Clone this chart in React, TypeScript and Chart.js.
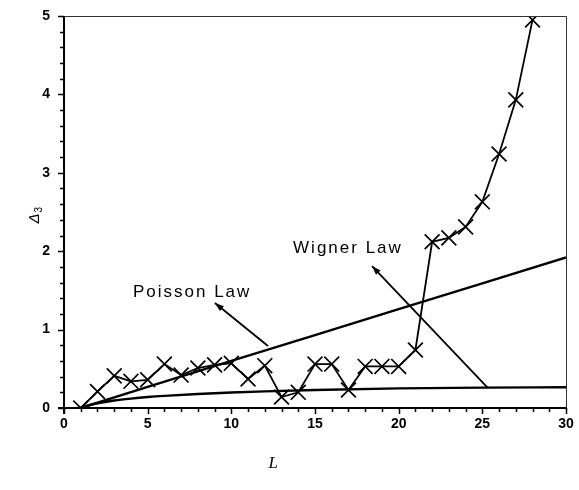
import React, { useEffect, useRef } from 'react';
import { Chart, registerables } from 'chart.js';

Chart.register(...registerables);

// ---- data ----
const L = [1, 2, 3, 4, 5, 6, 7, 8, 9, 10, 11, 12, 13, 14, 15, 16, 17, 18, 19, 20, 21, 22, 23, 24, 25, 26, 27, 28];
const delta3 = [0, 0.21, 0.41, 0.34, 0.36, 0.56, 0.42, 0.51, 0.55, 0.57, 0.37, 0.54, 0.14, 0.2, 0.56, 0.56, 0.23, 0.53, 0.53, 0.53, 0.74, 2.12, 2.17, 2.31, 2.63, 3.24, 3.93, 4.95];

const poissonL = [1, 5, 10, 15, 20, 25, 30];
const poissonY = [0, 0.27, 0.6, 0.93, 1.26, 1.59, 1.92];

const wignerL = [1, 1.5, 2, 3, 4, 5, 6, 8, 10, 12, 15, 20, 25, 30];
const wignerY = [0, 0.035, 0.06, 0.095, 0.12, 0.14, 0.155, 0.178, 0.197, 0.212, 0.23, 0.25, 0.26, 0.265];

const xTicks = [0, 5, 10, 15, 20, 25, 30];
const yTicks = [0, 1, 2, 3, 4, 5];

const xLabel = 'L';
const yLabelMain = 'Δ';
const yLabelSub = '3';

// annotation labels and arrows (in data units)
const labelTexts = ['Poisson Law', 'Wigner Law'];
const labelAt = [
  { x: 4.12, y: 1.415 },
  { x: 13.69, y: 1.975 },
];
const arrowFrom = [
  { x: 12.19, y: 0.79 },
  { x: 25.34, y: 0.255 },
];
const arrowTo = [
  { x: 9.02, y: 1.34 },
  { x: 18.41, y: 1.81 },
];

const TICK_FONT = { family: "'Liberation Sans', Arial, sans-serif", size: 14, weight: 'bold' as const };

const decorPlugin = {
  id: 'decor',
  afterDraw(chart: any) {
    const ctx = chart.ctx as CanvasRenderingContext2D;
    const xs = chart.scales.x;
    const ys = chart.scales.y;
    const area = chart.chartArea;
    ctx.save();
    ctx.strokeStyle = '#000';
    ctx.fillStyle = '#000';

    // top & right frame (thin)
    ctx.lineWidth = 1;
    ctx.strokeStyle = '#333';
    ctx.beginPath();
    ctx.moveTo(area.left, area.top + 0.5);
    ctx.lineTo(area.right + 0.5, area.top + 0.5);
    ctx.lineTo(area.right + 0.5, area.bottom);
    ctx.stroke();

    // main axes
    ctx.strokeStyle = '#000';
    ctx.lineWidth = 2;
    ctx.beginPath();
    ctx.moveTo(area.left - 6, area.bottom);
    ctx.lineTo(area.right + 1, area.bottom);
    ctx.moveTo(area.left, area.top);
    ctx.lineTo(area.left, area.bottom + 6);
    ctx.stroke();

    // x tick marks (every 1, major every 5)
    ctx.lineWidth = 1.5;
    ctx.beginPath();
    for (let v = 0; v <= 30; v++) {
      const px = Math.round(xs.getPixelForValue(v)) + 0.5;
      const len = v % 5 === 0 ? 6 : 4;
      ctx.moveTo(px, area.bottom);
      ctx.lineTo(px, area.bottom + len);
    }
    // y tick marks (every 0.2, major every 1)
    for (let i = 0; i <= 25; i++) {
      const v = i * 0.2;
      const py = Math.round(ys.getPixelForValue(v)) + 0.5;
      const len = i % 5 === 0 ? 6 : 4;
      ctx.moveTo(area.left, py);
      ctx.lineTo(area.left - len, py);
    }
    ctx.stroke();

    // annotation arrows
    ctx.lineWidth = 1.8;
    for (let i = 0; i < arrowFrom.length; i++) {
      const x0 = xs.getPixelForValue(arrowFrom[i].x);
      const y0 = ys.getPixelForValue(arrowFrom[i].y);
      const x1 = xs.getPixelForValue(arrowTo[i].x);
      const y1 = ys.getPixelForValue(arrowTo[i].y);
      ctx.beginPath();
      ctx.moveTo(x0, y0);
      ctx.lineTo(x1, y1);
      ctx.stroke();
      const ang = Math.atan2(y1 - y0, x1 - x0);
      const hl = 9;
      const hw = 3.2;
      ctx.beginPath();
      ctx.moveTo(x1, y1);
      ctx.lineTo(x1 - hl * Math.cos(ang) + hw * Math.sin(ang), y1 - hl * Math.sin(ang) - hw * Math.cos(ang));
      ctx.lineTo(x1 - hl * Math.cos(ang) - hw * Math.sin(ang), y1 - hl * Math.sin(ang) + hw * Math.cos(ang));
      ctx.closePath();
      ctx.fill();
    }

    // annotation labels
    ctx.font = "17px 'Liberation Sans', Arial, sans-serif";
    (ctx as any).letterSpacing = '2px';
    ctx.textBaseline = 'alphabetic';
    ctx.textAlign = 'left';
    for (let i = 0; i < labelTexts.length; i++) {
      ctx.fillText(labelTexts[i], xs.getPixelForValue(labelAt[i].x), ys.getPixelForValue(labelAt[i].y));
    }
    (ctx as any).letterSpacing = '0px';

    // x axis title
    ctx.font = "italic 17px 'Liberation Serif', 'Times New Roman', serif";
    ctx.textAlign = 'center';
    ctx.textBaseline = 'middle';
    ctx.fillText(xLabel, xs.getPixelForValue(12.5), area.bottom + 56);

    // y axis title (rotated)
    ctx.translate(34, (area.top + area.bottom) / 2 + 3);
    ctx.rotate(-Math.PI / 2);
    ctx.textAlign = 'left';
    ctx.textBaseline = 'alphabetic';
    ctx.font = "italic 15px 'Liberation Sans', Arial, sans-serif";
    const w = ctx.measureText(yLabelMain).width;
    const sw = 7;
    const start = -(w + sw) / 2;
    ctx.fillText(yLabelMain, start, 5);
    ctx.font = "10px 'Liberation Sans', Arial, sans-serif";
    ctx.fillText(yLabelSub, start + w + 1, 8);

    ctx.restore();
  },
};

export default function App() {
  const ref = useRef<HTMLCanvasElement | null>(null);

  useEffect(() => {
    if (!ref.current) return;
    const chart = new Chart(ref.current, {
      type: 'scatter',
      data: {
        datasets: [
          {
            data: wignerL.map((x, i) => ({ x, y: wignerY[i] })),
            showLine: true,
            borderColor: '#000',
            borderWidth: 2.4,
            pointRadius: 0,
            cubicInterpolationMode: 'monotone',
          },
          {
            data: poissonL.map((x, i) => ({ x, y: poissonY[i] })),
            showLine: true,
            borderColor: '#000',
            borderWidth: 2.4,
            pointRadius: 0,
          },
          {
            data: L.map((x, i) => ({ x, y: delta3[i] })),
            showLine: true,
            borderColor: '#000',
            borderWidth: 1.8,
            pointStyle: 'crossRot',
            pointRadius: 10.5,
            pointBorderWidth: 1.7,
            pointBorderColor: '#000',
            pointBackgroundColor: '#000',
          },
        ],
      } as any,
      options: {
        animation: false,
        responsive: false,
        layout: { padding: { left: 0, right: 13, top: 16, bottom: 0 } },
        plugins: { legend: { display: false }, tooltip: { enabled: false } },
        scales: {
          x: {
            type: 'linear',
            min: 0,
            max: 30,
            afterBuildTicks: (s: any) => {
              s.ticks = xTicks.map((v) => ({ value: v }));
            },
            grid: { display: false, drawTicks: false },
            border: { display: false },
            ticks: { font: TICK_FONT, color: '#000', padding: 8, maxRotation: 0, autoSkip: false },
            afterFit: (s: any) => {
              s.height = 82;
              s.paddingLeft = 0;
              s.paddingRight = 0;
            },
          },
          y: {
            type: 'linear',
            min: 0,
            max: 5,
            afterBuildTicks: (s: any) => {
              s.ticks = yTicks.map((v) => ({ value: v }));
            },
            grid: { display: false, drawTicks: false },
            border: { display: false },
            ticks: { font: TICK_FONT, color: '#000', padding: 14, autoSkip: false },
            afterFit: (s: any) => {
              s.width = 64;
              s.paddingTop = 0;
              s.paddingBottom = 0;
            },
          },
        },
      } as any,
      plugins: [decorPlugin],
    });
    return () => chart.destroy();
  }, []);

  return (
    <div style={{ position: 'absolute', left: 0, top: 0, width: 579, height: 490, background: '#fff' }}>
      <canvas ref={ref} width={579} height={490} style={{ display: 'block' }} />
    </div>
  );
}
